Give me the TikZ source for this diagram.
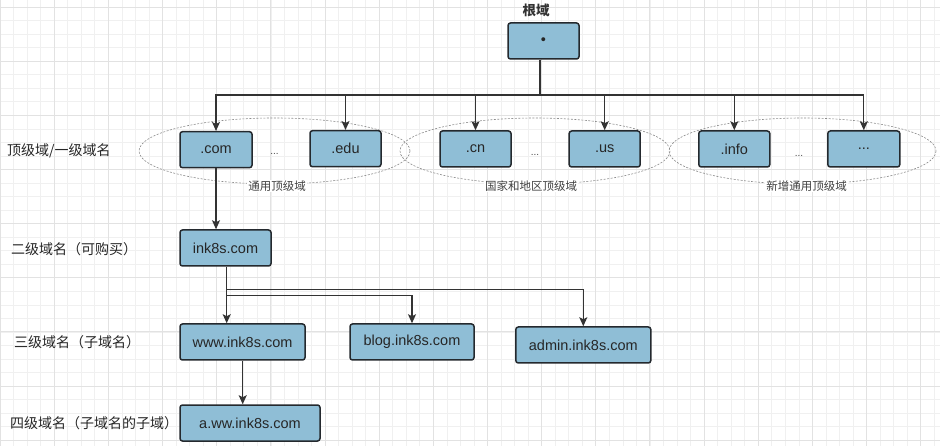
\documentclass[tikz,border=0pt]{standalone}
\usepackage{fontspec}
\setmainfont{Liberation Sans}
\newfontfamily\cjk{Noto Sans CJK SC}
\usetikzlibrary{arrows.meta}

\definecolor{boxblue}{HTML}{8FBED6}
\definecolor{boxline}{HTML}{24292E}
\definecolor{linkgray}{HTML}{333333}
\definecolor{gridmajor}{HTML}{E2E2E2}
\definecolor{gridminor}{HTML}{F0F0F0}

\tikzset{
  dnsbox/.style={draw=boxline, fill=boxblue, line width=1.5pt, rounded corners=2.5pt,
    minimum height=36pt, inner sep=0pt, text=black!85, font=\fontsize{14.5}{16}\selectfont},
  link/.style={draw=linkgray, line width=1.3pt, -{Stealth[length=9pt,width=8pt,inset=2pt]}},
  stem/.style={draw=linkgray, line width=1.3pt},
  level/.style={anchor=west, inner sep=0pt, text=black!85, font=\cjk\fontsize{14}{16}\selectfont},
  group/.style={draw=black!45, dash pattern=on 2pt off 1.5pt, line width=0.6pt},
  grouplabel/.style={fill=white, inner sep=1pt, text=black!75, font=\cjk\fontsize{11.5}{13}\selectfont},
  gap/.style={inner sep=0pt, text=black!70, font=\fontsize{10}{12}\selectfont},
}

\begin{document}
\begin{tikzpicture}[x=1pt,y=1pt,yscale=-1]
\fill[white] (0,0) rectangle (940,446);
\useasboundingbox (0,0) rectangle (940,446);

% grid
\foreach \i in {0,...,69} \draw[gridminor,line width=0.6pt] ({\i*13.54},0) -- ({\i*13.54},446);
\foreach \j in {0,...,33} \draw[gridminor,line width=0.6pt] (0,{7+\j*13.54}) -- (940,{7+\j*13.54});
\foreach \i in {0,...,17} \draw[gridmajor,line width=0.8pt] ({\i*54.15},0) -- ({\i*54.15},446);
\foreach \j in {0,...,8} \draw[gridmajor,line width=0.8pt] (0,{7+\j*54.15}) -- (940,{7+\j*54.15});

% groups of top level domains
\draw[group] (274.5,151) ellipse [x radius=135.5, y radius=33];
\draw[group] (535,151) ellipse [x radius=135, y radius=33];
\draw[group] (802.5,151) ellipse [x radius=133.5, y radius=33];

% root
\node[font=\cjk\bfseries\fontsize{13.5}{16}\selectfont, text=black!80] (rootlabel) at (536,10) {根域};
\node[dnsbox, minimum width=71pt] (root) at (543.5,41) {\textbullet};

% top level
\node[dnsbox, minimum width=72pt] (com) at (216,149.7) {.com};
\node[dnsbox, minimum width=71pt] (edu) at (345.5,148.7) {.edu};
\node[dnsbox, minimum width=71pt] (cn) at (475.5,149) {.cn};
\node[dnsbox, minimum width=71pt] (us) at (604.7,149) {.us};
\node[dnsbox, minimum width=71pt] (info) at (734.3,149) {.info};
\node[dnsbox, minimum width=72pt] (more) at (863.8,149) {...};

\node[gap] (gap1) at (274.5,154) {...};
\node[gap] (gap2) at (535,155) {...};
\node[gap] (gap3) at (799,156) {...};

\node[grouplabel] (generic) at (277,186) {通用顶级域};
\node[grouplabel] (country) at (531,186) {国家和地区顶级域};
\node[grouplabel] (newgeneric) at (806.7,186) {新增通用顶级域};

% lower levels
\node[dnsbox, minimum width=91pt] (ink) at (225.5,248) {ink8s.com};
\node[dnsbox, minimum width=125pt] (www) at (242.5,342) {www.ink8s.com};
\node[dnsbox, minimum width=124pt] (blog) at (412,342) {blog.ink8s.com};
\node[dnsbox, minimum width=135pt] (admin) at (583.3,345) {admin.ink8s.com};
\node[dnsbox, minimum width=140pt] (aww) at (250,423) {a.ww.ink8s.com};

% level names
\node[level] (lv1) at (7,150.7) {顶级域/一级域名};
\node[level] (lv2) at (11,249) {二级域名（可购买）};
\node[level] (lv3) at (14,342) {三级域名（子域名）};
\node[level] (lv4) at (10,422.7) {四级域名（子域名的子域）};

% connectors
\coordinate (bus) at (540,95);
\draw[stem] (root.south -| bus) -- (bus);
\draw[link] (bus) -| (com.north);
\draw[link] (bus) -| (edu.north);
\draw[link] (bus) -| (cn.north);
\draw[link] (bus) -| (us.north);
\draw[link] (bus) -| (info.north);
\draw[link] (bus) -| (more.north);

\draw[link] (com.south) -- (com.south |- ink.north);

\coordinate (fork) at (226.7,289.3);
\coordinate (fork2) at (226.7,295.3);
\draw[link] (ink.south -| fork) -- (www.north -| fork);
\draw[link] (fork2) -| (blog.north);
\draw[link] (fork) -| (admin.north);

\draw[link] (www.south -| 242.7,0) -- (aww.north -| 242.7,0);

\end{tikzpicture}
\end{document}
